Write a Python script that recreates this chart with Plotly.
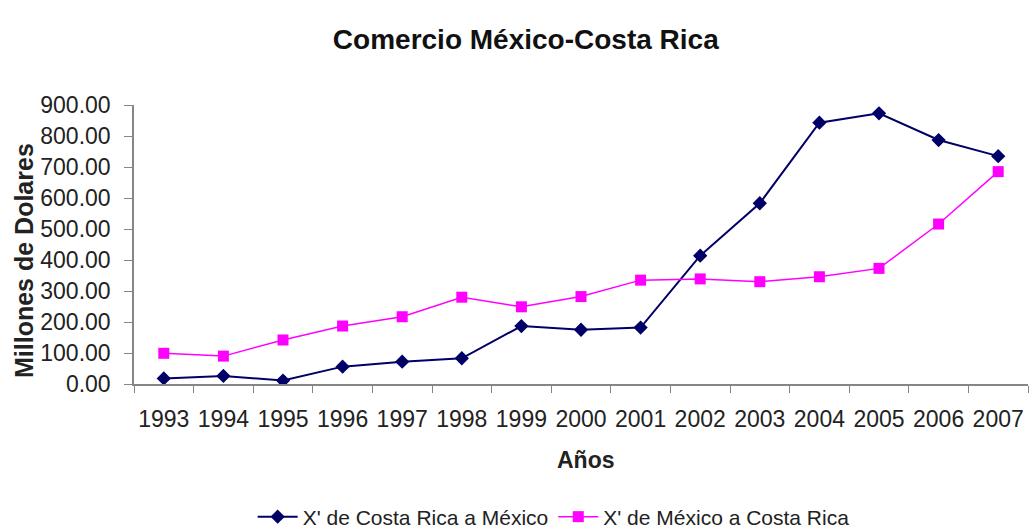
import plotly.graph_objects as go

years = ["1993", "1994", "1995", "1996", "1997", "1998", "1999", "2000",
         "2001", "2002", "2003", "2004", "2005", "2006", "2007"]
cr_to_mx = [18, 26, 11, 56, 72, 83, 187, 175, 182, 414, 583, 843, 873, 787, 735]
mx_to_cr = [99, 90, 142, 187, 217, 280, 249, 282, 335, 339, 330, 346, 373, 516, 685]
y_ticks = [0, 100, 200, 300, 400, 500, 600, 700, 800, 900]

FONT = "Liberation Sans, Arial, sans-serif"
AXC = "#868686"

fig = go.Figure()
fig.add_trace(go.Scatter(
    x=years, y=cr_to_mx, mode="lines+markers",
    name="X' de Costa Rica a México",
    line=dict(color="#000066", width=2),
    marker=dict(symbol="diamond", size=11, color="#000066"),
))
fig.add_trace(go.Scatter(
    x=years, y=mx_to_cr, mode="lines+markers",
    name="X' de México a Costa Rica",
    line=dict(color="#FF00FF", width=1.5),
    marker=dict(symbol="square", size=11, color="#FF00FF"),
))

fig.update_layout(
    width=1031, height=529,
    margin=dict(l=134, r=3, t=105, b=145),
    paper_bgcolor="white", plot_bgcolor="white",
    font=dict(family=FONT, size=22, color="#222222"),
    title=dict(text="<b>Comercio México-Costa Rica</b>", x=0.51, xanchor="center",
               xref="container", yref="container",
               y=1 - 39 / 529, yanchor="middle", font=dict(size=28, family=FONT, color="#111111")),
    showlegend=True,
    legend=dict(orientation="h", xref="container", yref="container",
                x=0.537, xanchor="center", y=1 - 517 / 529, yanchor="middle",
                font=dict(size=21, family=FONT), itemwidth=40, tracegroupgap=0,
                bgcolor="rgba(0,0,0,0)"),
    annotations=[
        dict(text="<b>Millones de Dolares</b>", xref="paper", yref="paper",
             x=(24 - 134) / 894, y=(384 - 261) / 279, xanchor="center", yanchor="middle",
             textangle=-90, showarrow=False, font=dict(size=25, family=FONT, color="#222222")),
        dict(text="<b>Años</b>", xref="paper", yref="paper",
             x=(586 - 134) / 894, y=(384 - 460) / 279, xanchor="center", yanchor="middle",
             showarrow=False, font=dict(size=23, family=FONT, color="#222222")),
    ],
)
fig.update_xaxes(
    type="category", range=[-0.5, 14.5], tickson="boundaries", ticks="outside", ticklen=7,
    tickcolor=AXC, showline=True, linecolor=AXC, linewidth=1.5,
    showgrid=False, tickfont=dict(size=23), tickangle=0, ticklabelstandoff=14,
    automargin=False,
)
fig.update_yaxes(
    range=[0, 900], tickvals=y_ticks, tickformat=".2f", ticks="outside", ticklen=8,
    tickcolor=AXC, showline=True, linecolor=AXC, linewidth=1.5,
    showgrid=False, zeroline=False, tickfont=dict(size=23), ticklabelstandoff=9,
    automargin=False,
)

fig.write_html("out.html")
